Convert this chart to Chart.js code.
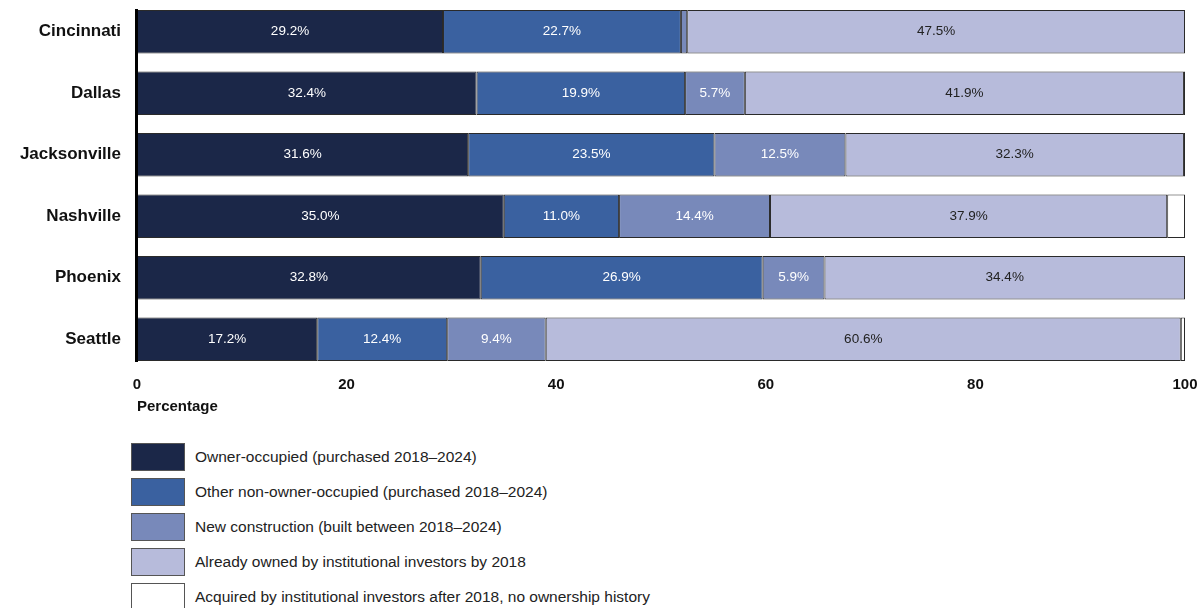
<!DOCTYPE html>
<html>
<head>
<meta charset="utf-8">
<script src="https://cdn.jsdelivr.net/npm/chart.js@4"></script>
<style>
  body { margin: 0; background: #fff; font-family: "Liberation Sans", Arial, sans-serif; }
  #wrap { position: relative; width: 1201px; height: 420px; }
  #legend { margin: 23px 0 0 131px; }
  .item { display: flex; align-items: center; height: 28px; margin-bottom: 7px; }
  .box { width: 52px; height: 26px; border: 1px solid #555; margin-right: 10px; }
  .item span { font-size: 15.5px; color: #222; }
</style>
</head>
<body>
<div id="wrap"><canvas id="myChart"></canvas></div>
<div id="legend"></div>
<script>
// Categories and series
const cities = ['Cincinnati', 'Dallas', 'Jacksonville', 'Nashville', 'Phoenix', 'Seattle'];
const ownerOccupied = [29.2, 32.4, 31.6, 35.0, 32.8, 17.2];
const otherNonOwner = [22.7, 19.9, 23.5, 11.0, 26.9, 12.4];
const newConstruction = [0.6, 5.7, 12.5, 14.4, 5.9, 9.4];
const alreadyOwned = [47.5, 41.9, 32.3, 37.9, 34.4, 60.6];
const acquiredAfter = [0, 0.1, 0.1, 1.7, 0, 0.4];
const xTicks = [0, 20, 40, 60, 80, 100];

const seriesNames = [
  'Owner-occupied (purchased 2018\u20132024)',
  'Other non-owner-occupied (purchased 2018\u20132024)',
  'New construction (built between 2018\u20132024)',
  'Already owned by institutional investors by 2018',
  'Acquired by institutional investors after 2018, no ownership history'
];
const seriesColors = ['#1b2748', '#3a61a0', '#7889ba', '#b7bbdb', '#ffffff'];
const labelColors = ['#ffffff', '#ffffff', '#ffffff', '#222222', '#222222'];
const seriesData = [ownerOccupied, otherNonOwner, newConstruction, alreadyOwned, acquiredAfter];

const fontFamily = '"Liberation Sans", Arial, sans-serif';

// Draw value labels inside the segments
const valueLabels = {
  id: 'valueLabels',
  afterDatasetsDraw(chart) {
    const ctx = chart.ctx;
    ctx.save();
    ctx.font = '13.5px ' + fontFamily;
    ctx.textAlign = 'center';
    ctx.textBaseline = 'middle';
    chart.data.datasets.forEach((ds, i) => {
      if (i === 4) return;
      const meta = chart.getDatasetMeta(i);
      meta.data.forEach((bar, j) => {
        const v = ds.data[j];
        if (v < 3) return;
        const cx = (bar.x + bar.base) / 2;
        ctx.fillStyle = labelColors[i];
        ctx.fillText(v.toFixed(1) + '%', cx, bar.y);
      });
    });
    ctx.restore();
  }
};

// Thick y axis line spanning the bars
const axisLine = {
  id: 'axisLine',
  afterDatasetsDraw(chart) {
    const meta = chart.getDatasetMeta(0);
    const first = meta.data[0];
    const last = meta.data[meta.data.length - 1];
    const ctx = chart.ctx;
    const x = chart.scales.x.getPixelForValue(0);
    ctx.save();
    ctx.strokeStyle = '#000';
    ctx.lineWidth = 3;
    ctx.beginPath();
    ctx.moveTo(x - 0.5, first.y - first.height / 2 - 1);
    ctx.lineTo(x - 0.5, last.y + last.height / 2 + 1);
    ctx.stroke();
    ctx.restore();
  }
};

const ctx = document.getElementById('myChart').getContext('2d');
const myChart = new Chart(ctx, {
  type: 'bar',
  data: {
    labels: cities,
    datasets: seriesData.map((d, i) => ({
      label: seriesNames[i],
      data: d,
      backgroundColor: seriesColors[i],
      borderColor: '#2a2a2a',
      borderWidth: 1,
      borderSkipped: false,
      barPercentage: 0.71,
      categoryPercentage: 1
    }))
  },
  options: {
    indexAxis: 'y',
    responsive: true,
    maintainAspectRatio: false,
    animation: false,
    layout: { padding: { top: 1, right: 16, left: 0, bottom: 0 } },
    scales: {
      x: {
        stacked: true,
        min: 0,
        max: 100,
        afterBuildTicks: (scale) => { scale.ticks = xTicks.map(v => ({ value: v })); },
        afterFit: (scale) => { scale.height = 50; scale.paddingLeft = 0; scale.paddingRight = 0; },
        grid: { display: false, drawTicks: false },
        border: { display: false },
        ticks: {
          padding: 6,
          color: '#111',
          font: { family: fontFamily, size: 15, weight: 'bold' }
        },
        title: {
          display: true,
          text: 'Percentage',
          align: 'start',
          color: '#111',
          padding: { top: 4, bottom: 4 },
          font: { family: fontFamily, size: 15, weight: 'bold' }
        }
      },
      y: {
        stacked: true,
        afterFit: (scale) => { scale.width = 137; scale.paddingTop = 0; scale.paddingBottom = 0; },
        grid: { display: false, drawTicks: false },
        border: { display: false },
        ticks: {
          padding: 16,
          color: '#111',
          font: { family: fontFamily, size: 17, weight: 'bold' }
        }
      }
    },
    plugins: {
      legend: { display: false },
      tooltip: { enabled: false }
    }
  },
  plugins: [valueLabels, axisLine]
});

// HTML legend stacked vertically
const legendEl = document.getElementById('legend');
seriesNames.forEach((name, i) => {
  const item = document.createElement('div');
  item.className = 'item';
  const box = document.createElement('div');
  box.className = 'box';
  box.style.background = seriesColors[i];
  const text = document.createElement('span');
  text.textContent = name;
  item.appendChild(box);
  item.appendChild(text);
  legendEl.appendChild(item);
});
</script>
</body>
</html>
